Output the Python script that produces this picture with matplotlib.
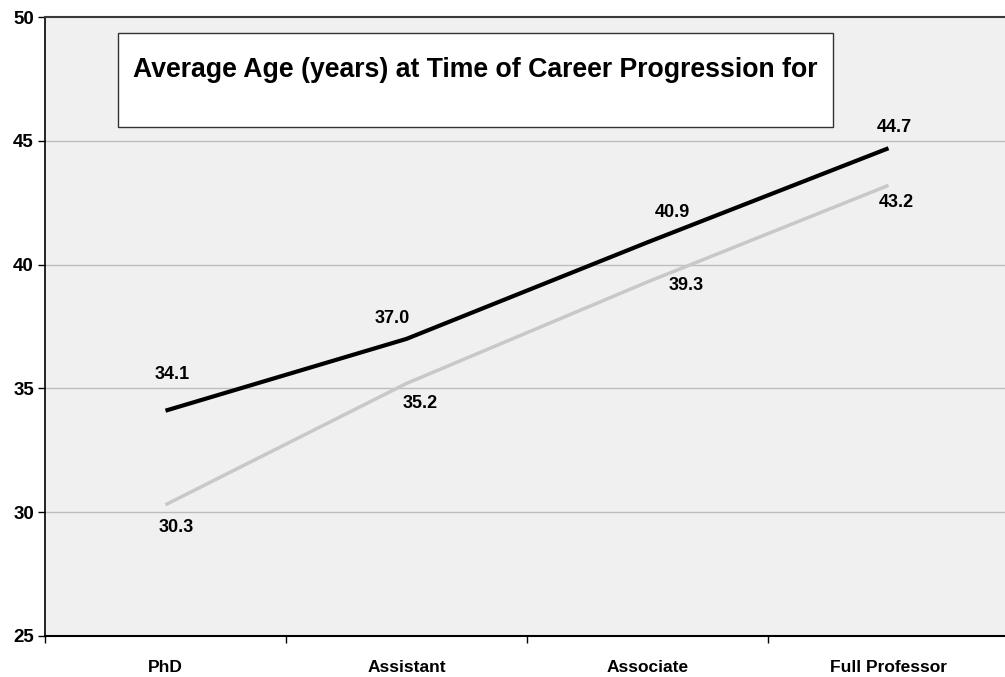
import matplotlib.pyplot as plt
from matplotlib.patches import Rectangle

categories = ['PhD', 'Assistant', 'Associate', 'Full Professor']
series_a = [34.1, 37.0, 40.9, 44.7]
series_b = [30.3, 35.2, 39.3, 43.2]
title_text = 'Average Age (years) at Time of Career Progression for'

# label offsets in pixels (dx, dy) from each point, as placed in the original
offsets_a = [(7, 36), (-14, 20), (25, 30), (6, 21)]
offsets_b = [(11, -23), (14, -20), (39, -4), (8, -17)]

plt.rcParams['font.family'] = ['Liberation Sans', 'DejaVu Sans']
plt.rcParams['font.weight'] = 'bold'

fig = plt.figure(figsize=(10.05, 6.77), dpi=100)
W, H = 1005, 677
ax = fig.add_axes([45 / W, (H - 636) / H, 964 / W, 619 / H])
ax.set_facecolor('#f0f0f0')

x = list(range(len(categories)))
ax.set_xlim(-0.5, len(categories) - 0.5)
ax.set_ylim(25, 50)
ax.set_yticks([25, 30, 35, 40, 45, 50])
ax.set_xticks(x)
ax.set_xticklabels(categories, fontsize=12.5, fontweight='bold')
ax.set_xticks([i - 0.5 for i in range(len(categories) + 1)], minor=True)
ax.tick_params(axis='x', which='major', length=0, pad=17)
ax.tick_params(axis='x', which='minor', length=5, width=1, direction='out')
ax.tick_params(axis='y', length=5, width=1, direction='out', labelsize=13.5, pad=3)
for lbl in ax.get_yticklabels():
    lbl.set_fontweight('bold')

for y in [30, 35, 40, 45]:
    ax.axhline(y, color='#bdbdbd', lw=1, zorder=1)

ax.spines['right'].set_visible(False)
ax.spines['top'].set_color('#3a3a3a')
ax.spines['top'].set_linewidth(1.5)
ax.spines['left'].set_linewidth(1.2)
ax.spines['bottom'].set_linewidth(1.5)

ax.plot(x, series_b, color='#c8c8c8', lw=2.5, zorder=3, solid_capstyle='butt')
ax.plot(x, series_a, color='black', lw=3, zorder=4, solid_capstyle='butt')

for xi, v, off in zip(x, series_a, offsets_a):
    ax.annotate(f'{v:.1f}', (xi, v), xytext=off, textcoords='offset pixels',
                ha='center', va='center', fontsize=13, fontweight='bold')
for xi, v, off in zip(x, series_b, offsets_b):
    ax.annotate(f'{v:.1f}', (xi, v), xytext=off, textcoords='offset pixels',
                ha='center', va='center', fontsize=13, fontweight='bold')

# title box
fig.patches.append(Rectangle((118 / W, (H - 127) / H), (833 - 118) / W, 94 / H,
                             transform=fig.transFigure, facecolor='white',
                             edgecolor='#333333', lw=1, zorder=5))
fig.text(133 / W, (H - 70) / H, title_text, ha='left', va='center',
         fontsize=19.2, fontweight='bold', zorder=6)

fig.savefig('out.png', dpi=100)
